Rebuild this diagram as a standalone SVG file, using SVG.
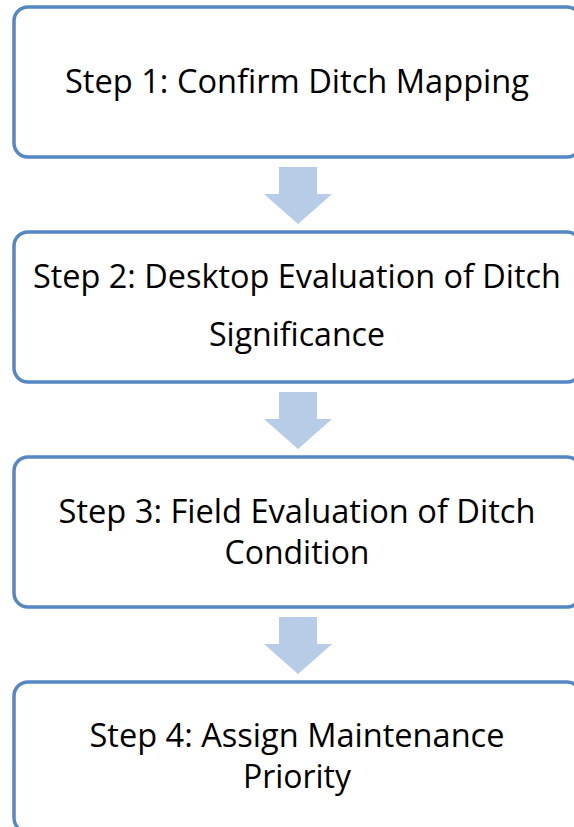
<svg xmlns="http://www.w3.org/2000/svg" width="574" height="827" viewBox="0 0 574 827">
<style>
.box{fill:#ffffff;stroke:#5587c3;stroke-width:3.5}
.lbl{font-family:"Open Sans","Noto Sans","Liberation Sans",sans-serif;font-size:33px;fill:#000000;text-anchor:middle}
.arr{fill:#b7cce7;stroke:none}
</style>
<rect width="574" height="827" fill="#ffffff"/>
<g id="connectors">
<polygon class="arr" points="279,167 317,167 317,194 332,194 298,224 264,194 279,194"/>
<polygon class="arr" points="279,392 317,392 317,419 332,419 298,449 264,419 279,419"/>
<polygon class="arr" points="279,617 317,617 317,644 332,644 298,674 264,644 279,644"/>
</g>
<g id="step1">
<rect class="box" x="14" y="7" width="567" height="150" rx="14" ry="14"/>
<text class="lbl" x="297" y="93" textLength="464" lengthAdjust="spacingAndGlyphs">Step 1: Confirm Ditch Mapping</text>
</g>
<g id="step2">
<rect class="box" x="14" y="232" width="567" height="150" rx="14" ry="14"/>
<text class="lbl" x="297" y="288" textLength="528" lengthAdjust="spacingAndGlyphs">Step 2: Desktop Evaluation of Ditch</text>
<text class="lbl" x="297" y="346" textLength="176" lengthAdjust="spacingAndGlyphs">Significance</text>
</g>
<g id="step3">
<rect class="box" x="14" y="457" width="567" height="150" rx="14" ry="14"/>
<text class="lbl" x="297" y="523" textLength="477" lengthAdjust="spacingAndGlyphs">Step 3: Field Evaluation of Ditch</text>
<text class="lbl" x="297" y="564" textLength="145" lengthAdjust="spacingAndGlyphs">Condition</text>
</g>
<g id="step4">
<rect class="box" x="14" y="682" width="567" height="150" rx="14" ry="14"/>
<text class="lbl" x="297" y="747" textLength="415" lengthAdjust="spacingAndGlyphs">Step 4: Assign Maintenance</text>
<text class="lbl" x="297" y="788" textLength="108" lengthAdjust="spacingAndGlyphs">Priority</text>
</g>
</svg>
